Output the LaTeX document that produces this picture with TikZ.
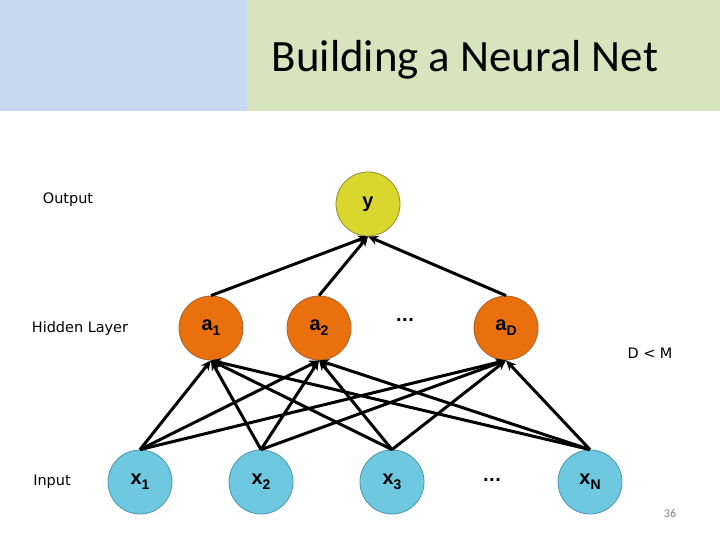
\documentclass[tikz,border=0pt]{standalone}
\usepackage{fontspec}
\setmainfont{DejaVu Sans}
\newfontfamily\titlefont{Carlito}
\newfontfamily\nodefont{Liberation Sans}
\usetikzlibrary{arrows.meta}
\definecolor{bandblue}{HTML}{C6D9F1}
\definecolor{bandgreen}{HTML}{D7E4BD}
\definecolor{yfill}{HTML}{D9D72E}
\definecolor{ydraw}{HTML}{8E8E30}
\definecolor{ofill}{HTML}{EA700E}
\definecolor{odraw}{HTML}{A8622C}
\definecolor{cfill}{HTML}{6EC9E0}
\definecolor{cdraw}{HTML}{4A95B0}
\newcommand\nsub[1]{\raisebox{-0.45ex}{\fontsize{14}{14}\selectfont #1}}
\tikzset{
  neuron/.style={circle, minimum size=64bp, inner sep=0pt, line width=0.8bp,
    font=\nodefont\bfseries\fontsize{20}{24}\selectfont},
  outn/.style={neuron, fill=yfill, draw=ydraw},
  hidn/.style={neuron, fill=ofill, draw=odraw},
  inn/.style={neuron, fill=cfill, draw=cdraw},
  lbl/.style={font=\fontsize{14.5}{17}\selectfont, inner sep=0pt},
  conn/.style={line width=3bp, -{Stealth[length=10bp,width=9bp]}},
  dots/.style={font=\fontsize{16}{18}\selectfont\bfseries, inner sep=0pt}
}
\begin{document}
\begin{tikzpicture}[x=1bp,y=-1bp]
\useasboundingbox (0,0) rectangle (720,540);
\fill[bandblue] (0,0) rectangle (247,111);
\fill[bandgreen] (247,0) rectangle (720,111);
\node[anchor=base, inner sep=0pt, font=\titlefont\fontsize{45}{52}\selectfont] (title) at (465,72) {Building a Neural Net};

\node[outn] (y) at (368,204) {y};
\node[hidn] (a1) at (211,328) {a\nsub{1}};
\node[hidn] (a2) at (319,328) {a\nsub{2}};
\node[hidn] (aD) at (506,328) {a\nsub{D}};
\node[dots] (hd) at (405,320) {...};
\node[inn] (x1) at (140,482) {x\nsub{1}};
\node[inn] (x2) at (261,482) {x\nsub{2}};
\node[inn] (x3) at (392,482) {x\nsub{3}};
\node[inn] (xN) at (590,482) {x\nsub{N}};
\node[dots] (id) at (492,480) {...};

\node[lbl] (lout) at (68,200) {Output};
\node[lbl] (lhid) at (80,329) {Hidden Layer};
\node[lbl] (lin) at (52,482) {Input};
\node[lbl] (dm) at (650,353) {D < M};
\node[font=\titlefont\fontsize{12}{14}\selectfont, text=gray, inner sep=0pt] (pg) at (670,514) {36};

\foreach \h in {a1,a2,aD}{
  \draw[conn] (\h.north) -- (y.south);
  \foreach \i in {x1,x2,x3,xN}{
    \draw[conn] (\i.north) -- (\h.south);
  }
}
\end{tikzpicture}
\end{document}
